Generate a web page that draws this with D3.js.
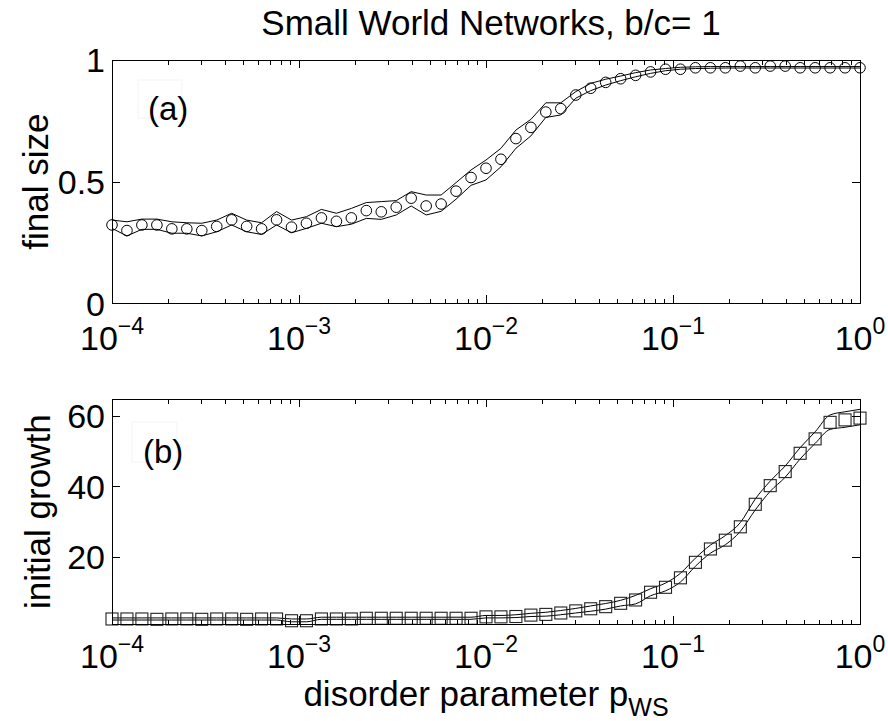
<!DOCTYPE html>
<html>
<head>
<meta charset="utf-8">
<script src="https://d3js.org/d3.v7.min.js"></script>
<style>
  html, body { margin: 0; padding: 0; background: #fff; }
  svg { display: block; font-family: "Liberation Sans", Arial, Helvetica, sans-serif; }
</style>
</head>
<body>
<svg id="chart" width="888" height="721"></svg>
<script>
// ---------------- data ----------------
const pValues = [
  1.000e-4, 1.202e-4, 1.445e-4, 1.738e-4, 2.089e-4, 2.512e-4, 3.020e-4, 3.631e-4, 4.365e-4, 5.248e-4,
  6.310e-4, 7.586e-4, 9.120e-4, 1.096e-3, 1.318e-3, 1.585e-3, 1.905e-3, 2.291e-3, 2.754e-3, 3.311e-3,
  3.981e-3, 4.786e-3, 5.754e-3, 6.918e-3, 8.318e-3, 1.000e-2, 1.202e-2, 1.445e-2, 1.738e-2, 2.089e-2,
  2.512e-2, 3.020e-2, 3.631e-2, 4.365e-2, 5.248e-2, 6.310e-2, 7.586e-2, 9.120e-2, 1.096e-1, 1.318e-1,
  1.585e-1, 1.905e-1, 2.291e-1, 2.754e-1, 3.311e-1, 3.981e-1, 4.786e-1, 5.754e-1, 6.918e-1, 8.318e-1,
  1.000
];

const finalSize = [
  0.322, 0.299, 0.322, 0.322, 0.306, 0.306, 0.299, 0.316, 0.343, 0.316,
  0.306, 0.343, 0.313, 0.329, 0.351, 0.337, 0.351, 0.381, 0.376, 0.395,
  0.432, 0.400, 0.408, 0.461, 0.517, 0.555, 0.592, 0.677, 0.723, 0.786,
  0.800, 0.856, 0.884, 0.908, 0.923, 0.937, 0.951, 0.962, 0.962, 0.968,
  0.968, 0.968, 0.975, 0.968, 0.975, 0.975, 0.968, 0.968, 0.968, 0.968,
  0.968
];
const finalSizeUpper = [
  0.342, 0.335, 0.346, 0.346, 0.335, 0.331, 0.329, 0.342, 0.370, 0.342,
  0.331, 0.377, 0.342, 0.356, 0.386, 0.370, 0.390, 0.414, 0.418, 0.422,
  0.459, 0.445, 0.445, 0.496, 0.548, 0.589, 0.637, 0.712, 0.756, 0.824,
  0.824, 0.870, 0.904, 0.921, 0.934, 0.948, 0.959, 0.965, 0.970, 0.972,
  0.973, 0.973, 0.973, 0.973, 0.973, 0.973, 0.973, 0.973, 0.973, 0.973,
  0.973
];
const finalSizeLower = [
  0.308, 0.277, 0.304, 0.304, 0.288, 0.288, 0.277, 0.294, 0.322, 0.294,
  0.283, 0.322, 0.290, 0.308, 0.329, 0.315, 0.325, 0.349, 0.345, 0.363,
  0.400, 0.363, 0.378, 0.428, 0.485, 0.507, 0.561, 0.637, 0.688, 0.764,
  0.774, 0.843, 0.874, 0.897, 0.915, 0.931, 0.945, 0.956, 0.962, 0.965,
  0.966, 0.967, 0.967, 0.967, 0.967, 0.967, 0.967, 0.967, 0.967, 0.967,
  0.967
];

const initialGrowth = [
  2.3, 2.3, 2.3, 2.2, 2.3, 2.3, 2.2, 2.3, 2.3, 2.2,
  2.3, 2.3, 1.8, 1.8, 2.3, 2.3, 2.3, 2.5, 2.5, 2.5,
  2.5, 2.5, 2.5, 2.5, 2.5, 2.9, 2.9, 3.0, 3.4, 3.6,
  4.0, 4.6, 5.2, 5.8, 6.75, 7.7, 9.9, 11.3, 14.0, 18.4,
  22.2, 24.7, 28.5, 34.9, 40.2, 44.2, 49.4, 53.5, 58.2, 58.9,
  59.4
];
const initialGrowthUpper = [
  2.6, 2.6, 2.6, 2.6, 2.6, 2.6, 2.6, 2.6, 2.6, 2.6,
  2.6, 2.6, 2.3, 2.3, 2.8, 2.8, 2.8, 2.8, 2.8, 2.8,
  2.8, 2.8, 2.8, 2.8, 2.8, 3.3, 3.3, 3.5, 3.9, 4.2,
  4.7, 5.3, 6.0, 6.7, 7.6, 9.0, 10.9, 12.5, 15.3, 19.6,
  23.3, 26.0, 29.7, 36.4, 41.5, 45.8, 51.0, 55.5, 60.3, 61.2,
  61.9
];
const initialGrowthLower = [
  2.0, 2.0, 2.0, 2.0, 2.0, 2.0, 2.0, 2.0, 2.0, 2.0,
  2.0, 2.0, 1.5, 1.5, 2.2, 2.2, 2.2, 2.2, 2.2, 2.2,
  2.2, 2.2, 2.2, 2.2, 2.2, 2.6, 2.6, 2.7, 3.0, 3.1,
  3.5, 4.0, 4.5, 5.1, 6.0, 6.6, 8.9, 10.3, 12.8, 17.3,
  21.0, 23.4, 27.2, 33.3, 38.6, 42.6, 47.8, 52.2, 56.2, 56.8,
  57.5
];

const xMajorTicks = [1e-4, 1e-3, 1e-2, 1e-1, 1];
const xMajorExponents = ["\u22124", "\u22123", "\u22122", "\u22121", "0"];
const yTicksTop = [0, 0.5, 1];
const yTickLabelsTop = ["0", "0.5", "1"];
const yTicksBottom = [20, 40, 60];
const yTickLabelsBottom = ["20", "40", "60"];

const titleText = "Small World Networks, b/c= 1";

// ---------------- layout ----------------
const svg = d3.select("#chart");
svg.append("rect").attr("width", 888).attr("height", 721).attr("fill", "#fff");

const X0 = 112, X1 = 860;
const x = d3.scaleLog().domain([1e-4, 1]).range([X0, X1]);

const xMinorTicks = [];
xMajorTicks.slice(0, -1).forEach(d => { for (let k = 2; k <= 9; k++) xMinorTicks.push(d * k); });

function drawPanel(cfg) {
  const y = d3.scaleLinear().domain(cfg.yDomain).range([cfg.bottom, cfg.top]);
  const g = svg.append("g");

  // faint legend box
  g.append("rect").attr("x", cfg.legendBox[0]).attr("y", cfg.legendBox[1])
    .attr("width", cfg.legendBox[2]).attr("height", cfg.legendBox[3])
    .attr("fill", "none").attr("stroke", "#f3f3f3").attr("stroke-width", 1);

  // band lines
  const line = d3.line().x((d, i) => x(pValues[i])).y(d => y(d)).curve(cfg.curve);
  [cfg.upper, cfg.lower].forEach(arr => {
    g.append("path").attr("d", line(arr)).attr("fill", "none")
      .attr("stroke", "#000").attr("stroke-width", 1);
  });

  // markers
  if (cfg.marker === "circle") {
    g.selectAll("circle.m").data(cfg.values).enter().append("circle")
      .attr("cx", (d, i) => x(pValues[i])).attr("cy", d => y(d)).attr("r", 5.3)
      .attr("fill", "none").attr("stroke", "#000").attr("stroke-width", 1);
  } else {
    const s = 12;
    g.selectAll("rect.m").data(cfg.values).enter().append("rect")
      .attr("x", (d, i) => x(pValues[i]) - s / 2).attr("y", d => y(d) - s / 2)
      .attr("width", s).attr("height", s)
      .attr("fill", "none").attr("stroke", "#222").attr("stroke-width", 1.1);
  }

  // axes (ticks inward, mirrored)
  const axG = svg.append("g").attr("shape-rendering", "crispEdges");
  function addAxis(axis, tx, ty) {
    const a = axG.append("g").attr("transform", `translate(${tx},${ty})`).call(axis);
    a.select(".domain").remove();
    a.selectAll("text").remove();
    a.selectAll("line").attr("stroke", "#000");
  }
  addAxis(d3.axisBottom(x).tickValues(xMajorTicks).tickSize(-8).tickFormat(""), 0, cfg.bottom);
  addAxis(d3.axisBottom(x).tickValues(xMinorTicks).tickSize(-4.5).tickFormat(""), 0, cfg.bottom);
  addAxis(d3.axisTop(x).tickValues(xMajorTicks).tickSize(-8).tickFormat(""), 0, cfg.top);
  addAxis(d3.axisTop(x).tickValues(xMinorTicks).tickSize(-4.5).tickFormat(""), 0, cfg.top);
  addAxis(d3.axisLeft(y).tickValues(cfg.yTicks).tickSize(-8).tickFormat(""), X0, 0);
  addAxis(d3.axisRight(y).tickValues(cfg.yTicks).tickSize(-8).tickFormat(""), X1, 0);

  axG.append("rect").attr("x", X0).attr("y", cfg.top)
    .attr("width", X1 - X0).attr("height", cfg.bottom - cfg.top)
    .attr("fill", "none").attr("stroke", "#000").attr("stroke-width", 1);

  // x tick labels: 10^k
  xMajorTicks.forEach((t, i) => {
    const txt = g.append("text").attr("x", x(t)).attr("y", cfg.bottom + cfg.xLabelOffset)
      .attr("text-anchor", "middle").attr("font-size", 34).attr("fill", "#000");
    txt.append("tspan").text("10");
    txt.append("tspan").attr("dy", -16).attr("font-size", 23).text(xMajorExponents[i]);
  });

  // y tick labels
  cfg.yTicks.forEach((t, i) => {
    g.append("text").attr("x", 105).attr("y", y(t)).attr("dy", "0.36em")
      .attr("text-anchor", "end").attr("font-size", 34).attr("fill", "#000")
      .text(cfg.yTickLabels[i]);
  });

  // y axis label
  g.append("text").attr("transform", `translate(${cfg.yLabelX},${(cfg.top + cfg.bottom) / 2}) rotate(-90)`)
    .attr("text-anchor", "middle").attr("font-size", 35).attr("fill", "#000")
    .text(cfg.yLabel);

  // panel tag
  g.append("text").attr("x", cfg.tagPos[0]).attr("y", cfg.tagPos[1])
    .attr("font-size", 33).attr("fill", "#000").text(cfg.tag);
}

drawPanel({
  top: 60, bottom: 303.3, yDomain: [0, 1],
  yTicks: yTicksTop, yTickLabels: yTickLabelsTop,
  values: finalSize, upper: finalSizeUpper, lower: finalSizeLower,
  curve: d3.curveLinear, marker: "circle", xLabelOffset: 47,
  yLabel: "final size", yLabelX: 48,
  tag: "(a)", tagPos: [148, 120], legendBox: [138, 80, 44, 38]
});

drawPanel({
  top: 399.3, bottom: 624, yDomain: [0.87, 64.75],
  yTicks: yTicksBottom, yTickLabels: yTickLabelsBottom,
  values: initialGrowth, upper: initialGrowthUpper, lower: initialGrowthLower,
  curve: d3.curveMonotoneX, marker: "square", xLabelOffset: 44,
  yLabel: "initial growth", yLabelX: 50,
  tag: "(b)", tagPos: [143, 463], legendBox: [132, 422, 45, 40]
});

// title
svg.append("text").attr("x", 491).attr("y", 35).attr("text-anchor", "middle")
  .attr("font-size", 35).attr("fill", "#000").text(titleText);

// x axis label with subscript
const xl = svg.append("text").attr("x", 486).attr("y", 706).attr("text-anchor", "middle")
  .attr("font-size", 35).attr("fill", "#000");
xl.append("tspan").text("disorder parameter p");
xl.append("tspan").attr("dy", 10).attr("font-size", 25).text("WS");
</script>
</body>
</html>
